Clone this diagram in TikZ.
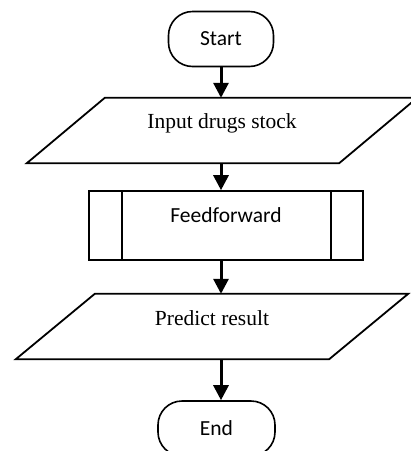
\documentclass[tikz,border=0pt]{standalone}
\usepackage{fontspec}
\setmainfont{Liberation Serif}
\newfontfamily\calibri{Carlito}
\usetikzlibrary{arrows.meta}

\begin{document}
\begin{tikzpicture}[x=1pt,y=-1pt,
	term/.style={draw,line width=1.6pt,rounded corners=24pt,minimum height=55pt,font=\calibri\fontsize{21.5}{25}\selectfont},
	io/.style={minimum height=65pt,inner sep=0pt},
	proc/.style={draw,line width=1.6pt,minimum width=274pt,minimum height=69pt,inner sep=0pt},
	txt/.style={font=\fontsize{21.5}{25}\selectfont},
	arr/.style={-{Triangle[length=15pt,width=15pt]},line width=3pt}]
	\useasboundingbox (0,0) rectangle (411,451);
	\clip (0,0) rectangle (411,451);
	
	\node[term,minimum width=105pt] (start) at (221,39) {Start};
	\node[io,minimum width=390pt] (input) at (222,130.5) {};
	\node[txt] (inputtxt) at (222,123) {Input drugs stock};
	\node[proc] (ff) at (226,225.5) {};
	\node[txt,font=\calibri\fontsize{21.5}{25}\selectfont] (fftxt) at (226,215) {Feedforward};
	\node[io,minimum width=392pt] (predict) at (212,326.5) {};
	\node[txt] (predicttxt) at (212,318) {Predict result};
	\node[term,minimum width=117pt] (end) at (216.5,428.5) {End};
	
	\draw[line width=1.8pt] (input.south west) -- ([xshift=78pt]input.north west) -- (input.north east) -- ([xshift=-78pt]input.south east) -- cycle;
	\draw[line width=1.8pt] (predict.south west) -- ([xshift=79pt]predict.north west) -- (predict.north east) -- ([xshift=-79pt]predict.south east) -- cycle;
	\draw[line width=1.6pt] ([xshift=34pt]ff.north west) -- ([xshift=34pt]ff.south west);
	\draw[line width=1.6pt] ([xshift=-33pt]ff.north east) -- ([xshift=-33pt]ff.south east);
	
	\draw[arr] (start.south) -- (start.south |- input.north);
	\draw[arr] (input.south -| start.south) -- (ff.north -| start.south);
	\draw[arr] (ff.south -| start.south) -- (predict.north -| start.south);
	\draw[arr] (predict.south -| start.south) -- (end.north -| start.south);
\end{tikzpicture}
\end{document}
